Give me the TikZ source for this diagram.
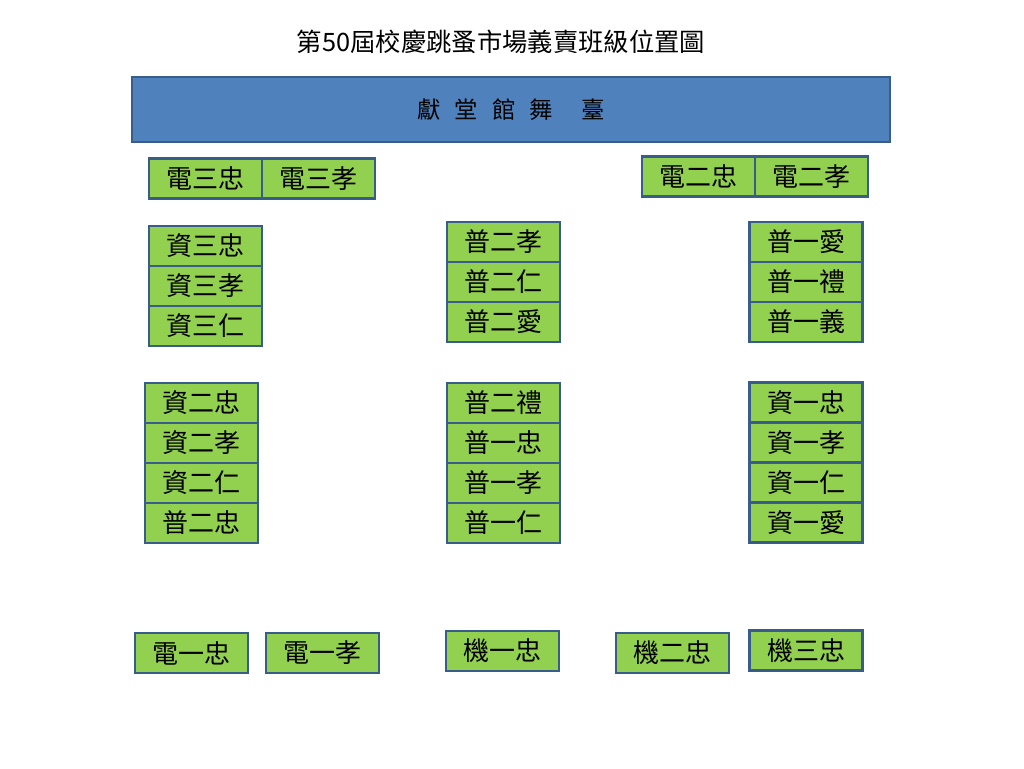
\documentclass[tikz,border=0pt]{standalone}
\usepackage{fontspec}
\setmainfont{Noto Sans CJK TC}
\newfontfamily\stagefont[WordSpace=2.7]{Noto Sans CJK TC}
\usetikzlibrary{positioning}
\definecolor{boxgreen}{HTML}{92D050}
\definecolor{boxline}{HTML}{385D8A}
\definecolor{stageblue}{HTML}{4F81BD}
\tikzset{
  classbox/.style={
    rectangle, draw=boxline, line width=2.1pt, fill=boxgreen,
    minimum width=84.75pt, minimum height=30pt, outer sep=0pt,
    inner sep=0pt, align=center, font=\fontsize{19.5}{21}\selectfont
  },
  stage/.style={
    rectangle, draw=boxline, line width=2.1pt, fill=stageblue,
    minimum width=568.5pt, minimum height=48.75pt,
    align=center, font=\stagefont\fontsize{17.5}{20}\selectfont
  },
  heading/.style={font=\fontsize{19}{22}\selectfont}
}

\begin{document}
\begin{tikzpicture}[x=0.75pt, y=-0.75pt]
  \useasboundingbox (0,0) rectangle (1024,768);

  \node[heading] (title) at (501,42) {第50屆校慶跳蚤市場義賣班級位置圖};
  \node[stage] (stage) at (511,109.5) {獻 堂 館 舞 \ 臺};

  % front row
  \node[classbox] (d3zhong) at (205.5,178.5) {電三忠};
  \node[classbox, right=0pt of d3zhong] (d3xiao) {電三孝};
  \node[classbox] (d2zhong) at (698.5,176.5) {電二忠};
  \node[classbox, right=0pt of d2zhong] (d2xiao) {電二孝};

  % left column
  \node[classbox] (z3zhong) at (205.5,246) {資三忠};
  \node[classbox, below=0pt of z3zhong] (z3xiao) {資三孝};
  \node[classbox, below=0pt of z3xiao] (z3ren) {資三仁};

  \node[classbox] (z2zhong) at (201.5,403) {資二忠};
  \node[classbox, below=0pt of z2zhong] (z2xiao) {資二孝};
  \node[classbox, below=0pt of z2xiao] (z2ren) {資二仁};
  \node[classbox, below=0pt of z2ren] (p2zhong) {普二忠};

  % middle column
  \node[classbox] (p2xiao) at (503.5,242) {普二孝};
  \node[classbox, below=0pt of p2xiao] (p2ren) {普二仁};
  \node[classbox, below=0pt of p2ren] (p2ai) {普二愛};

  \node[classbox] (p2li) at (503.5,403) {普二禮};
  \node[classbox, below=0pt of p2li] (p1zhong) {普一忠};
  \node[classbox, below=0pt of p1zhong] (p1xiao) {普一孝};
  \node[classbox, below=0pt of p1xiao] (p1ren) {普一仁};

  % right column
  \node[classbox] (p1ai) at (806,242) {普一愛};
  \node[classbox, below=0pt of p1ai] (p1li) {普一禮};
  \node[classbox, below=0pt of p1li] (p1yi) {普一義};

  \node[classbox] (z1zhong) at (806,402.5) {資一忠};
  \node[classbox, below=0pt of z1zhong] (z1xiao) {資一孝};
  \node[classbox, below=0pt of z1xiao] (z1ren) {資一仁};
  \node[classbox, below=0pt of z1ren] (z1ai) {資一愛};

  % back row
  \node[classbox] (d1zhong) at (191.5,653) {電一忠};
  \node[classbox] (d1xiao) at (322.5,653) {電一孝};
  \node[classbox] (j1zhong) at (502.5,651) {機一忠};
  \node[classbox] (j2zhong) at (672.5,653) {機二忠};
  \node[classbox] (j3zhong) at (806,650.5) {機三忠};
\end{tikzpicture}
\end{document}
